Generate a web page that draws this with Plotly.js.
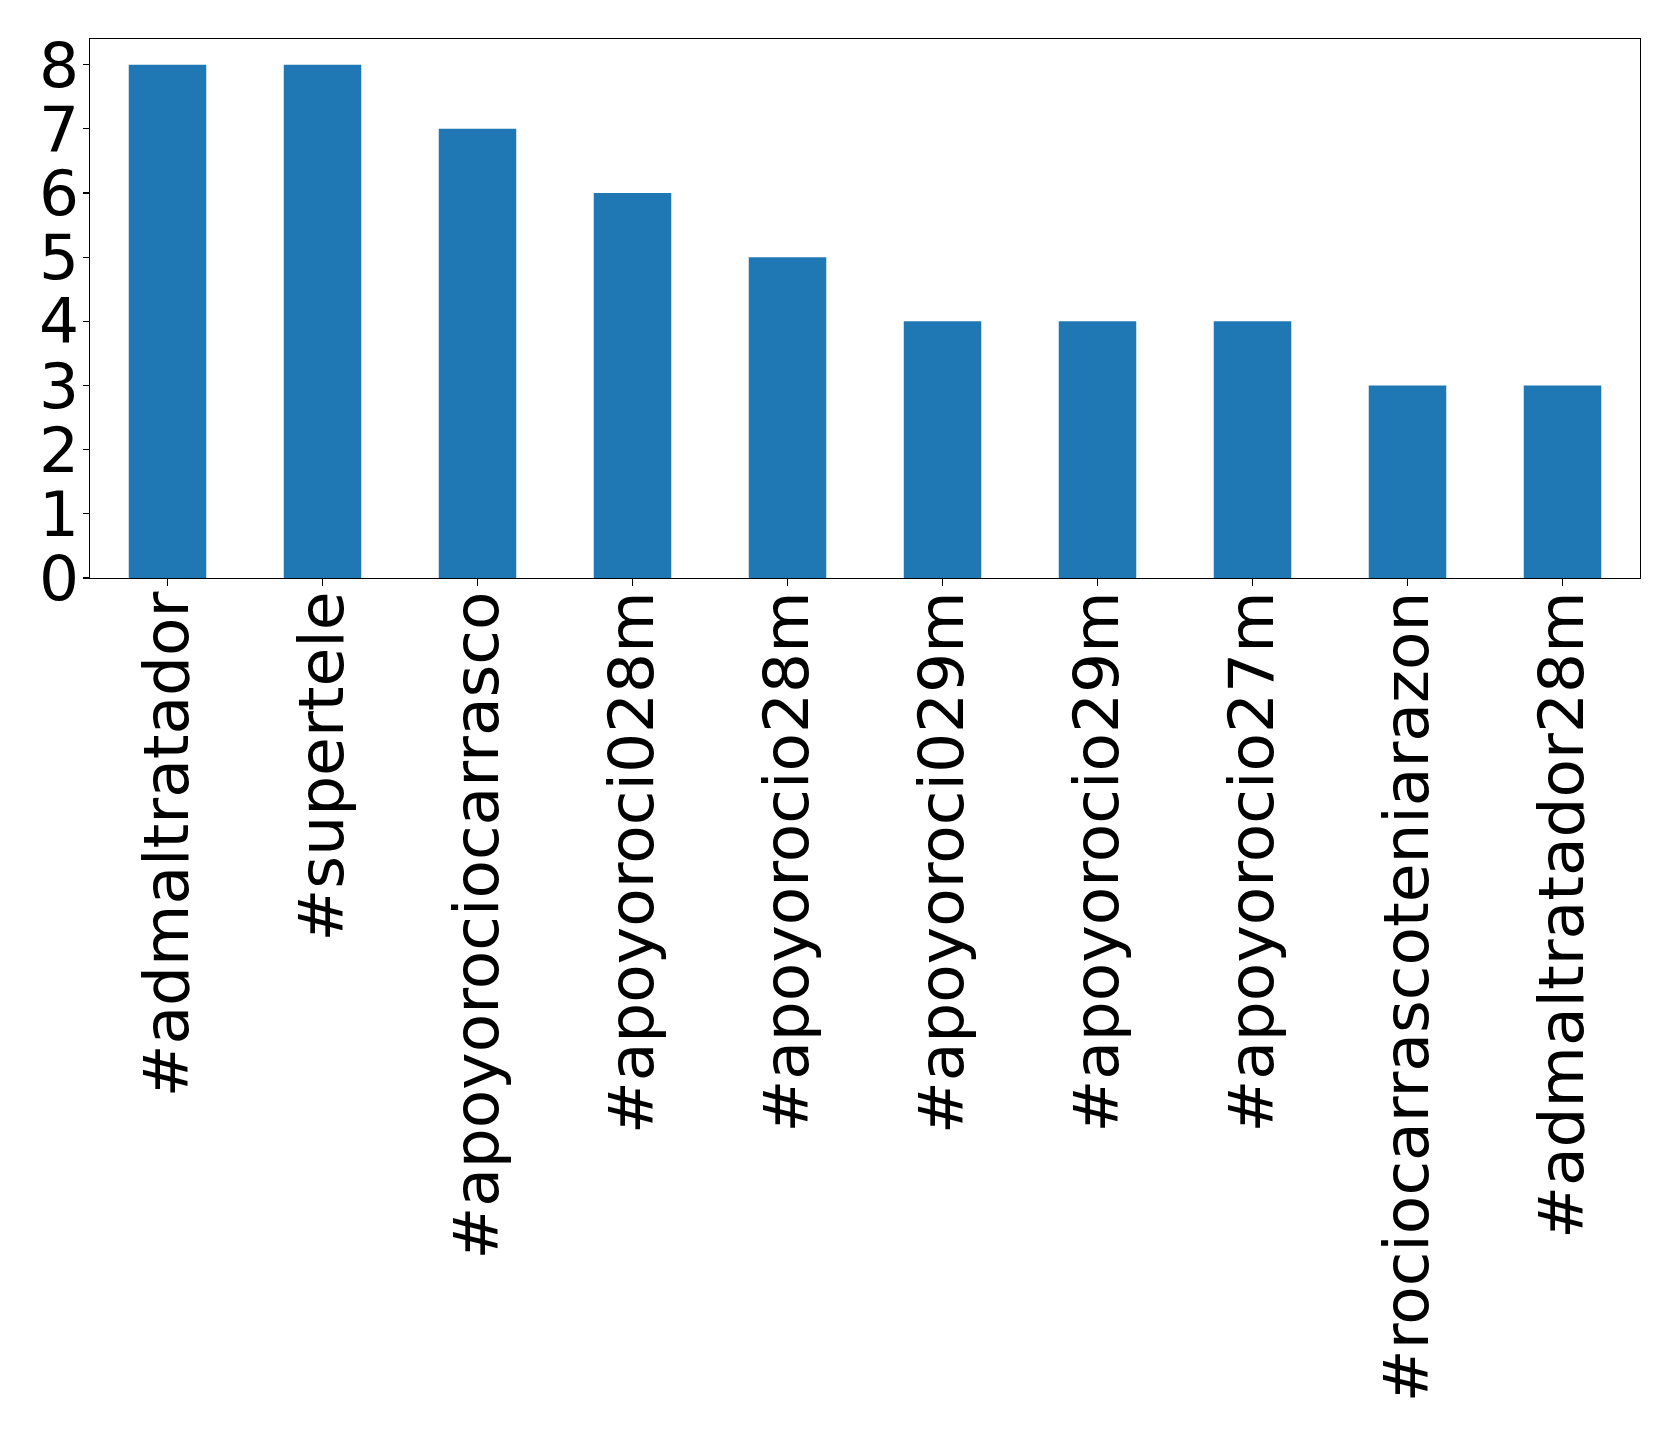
<!DOCTYPE html>
<html>
<head>
<meta charset="utf-8">
<script src="https://cdn.plot.ly/plotly-3.0.1.min.js"></script>
<style>html,body{margin:0;padding:0;background:#fff;}#chart{width:1679px;height:1432px;}</style>
</head>
<body>
<div id="chart"></div>
<script>
const categories = ["#admaltratador", "#supertele", "#apoyorociocarrasco", "#apoyoroci028m", "#apoyorocio28m", "#apoyoroci029m", "#apoyorocio29m", "#apoyorocio27m", "#rociocarrascoteniarazon", "#admaltratador28m"];
const counts = [8, 8, 7, 6, 5, 4, 4, 4, 3, 3];
const yTicks = [0, 1, 2, 3, 4, 5, 6, 7, 8];

const trace = {
  type: "bar",
  x: categories.map((_, i) => i),
  y: counts,
  width: 0.5,
  marker: {color: "#1f77b4", line: {width: 0}},
  hoverinfo: "x+y"
};

const font = {family: "DejaVu Sans, sans-serif", size: 63, color: "#000"};

const layout = {
  width: 1679,
  height: 1432,
  margin: {l: 90.3, r: 38.7, t: 39.3, b: 853.7, pad: 0},
  paper_bgcolor: "#fff",
  plot_bgcolor: "#fff",
  showlegend: false,
  font: font,
  xaxis: {
    range: [-0.5, 9.5],
    tickmode: "array",
    tickvals: categories.map((_, i) => i),
    ticktext: categories,
    tickangle: -90,
    ticks: "outside",
    ticklen: 7,
    tickwidth: 1.2,
    tickcolor: "#000",
    tickfont: font,
    ticklabelstandoff: -20,
    showgrid: false,
    zeroline: false,
    showline: true,
    linecolor: "#000",
    linewidth: 1.3,
    mirror: true,
    fixedrange: true
  },
  yaxis: {
    range: [0, 8.4],
    tickmode: "array",
    tickvals: yTicks,
    ticktext: yTicks.map(String),
    ticks: "outside",
    ticklen: 6,
    tickwidth: 1.2,
    tickcolor: "#000",
    tickfont: font,
    ticklabelstandoff: -9,
    showgrid: false,
    zeroline: false,
    showline: true,
    linecolor: "#000",
    linewidth: 1.3,
    mirror: true,
    fixedrange: true
  }
};

Plotly.newPlot("chart", [trace], layout, {displayModeBar: false, staticPlot: true});
</script>
</body>
</html>
